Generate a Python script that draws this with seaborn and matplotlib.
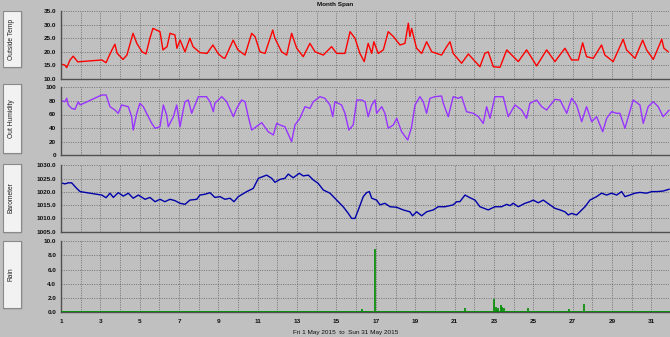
import matplotlib
matplotlib.use("Agg")
import matplotlib.pyplot as plt
from matplotlib.patches import Rectangle
from matplotlib.lines import Line2D
import numpy as np
import seaborn as sns

# ---------------- data (day of month, value) ----------------
temp_day = [1.00, 1.20, 1.29, 1.46, 1.62, 1.85, 3.07, 3.29, 3.54, 3.74, 3.85, 4.15, 4.35, 4.66, 4.86,
            5.12, 5.32, 5.52, 5.67, 6.03, 6.18, 6.39, 6.54, 6.79, 6.89, 7.05, 7.30, 7.55, 7.71, 8.06,
            8.42, 8.72, 8.98, 9.23, 9.33, 9.75, 9.99, 10.35, 10.69, 10.86, 11.11, 11.37, 11.76, 11.87,
            12.21, 12.47, 12.72, 12.98, 13.31, 13.65, 13.91, 14.33, 14.75, 15.01, 15.43, 15.69, 15.94,
            16.19, 16.41, 16.61, 16.79, 16.90, 17.12, 17.38, 17.63, 17.89, 18.23, 18.48, 18.65, 18.73,
            18.82, 18.94, 19.07, 19.33, 19.58, 19.84, 20.34, 20.60, 20.77, 20.93, 21.36, 21.70, 22.29,
            22.54, 22.71, 22.97, 23.31, 23.65, 24.24, 24.66, 24.83, 25.17, 25.68, 26.10, 26.61, 26.95,
            27.29, 27.51, 27.71, 28.05, 28.47, 28.64, 29.06, 29.57, 29.74, 30.17, 30.56, 30.76, 31.10,
            31.53, 31.64, 31.86]
temp_val = [15.5, 15.1, 14.2, 17.0, 18.4, 16.3, 17.0, 16.0, 20.0, 22.8, 19.5, 17.2, 18.8, 26.8, 23.0,
            20.0, 19.2, 25.0, 28.6, 27.4, 20.7, 21.9, 26.8, 26.2, 21.3, 24.3, 20.0, 25.0, 21.9, 19.7,
            19.4, 22.5, 19.4, 17.8, 17.6, 24.3, 20.7, 18.8, 26.8, 25.6, 20.0, 19.4, 28.0, 25.0,
            20.0, 18.8, 26.8, 21.3, 18.2, 23.1, 20.0, 18.8, 21.9, 19.4, 19.4, 27.4, 25.0,
            19.4, 16.4, 23.1, 19.4, 23.7, 19.4, 20.7, 27.4, 25.6, 22.5, 23.1, 30.5, 25.6,
            28.6, 25.0, 21.3, 19.4, 23.7, 20.0, 18.8, 21.9, 23.7, 19.4, 15.8, 19.2, 14.5,
            19.4, 20.0, 14.5, 14.3, 20.7, 16.4, 20.7, 18.8, 14.8, 20.7, 16.4, 21.3, 17.0,
            17.0, 23.3, 18.2, 17.6, 22.5, 18.8, 16.4, 24.6, 20.7, 17.6, 24.3, 20.7, 17.2,
            24.6, 21.3, 20.0]

hum_day = [1.00, 1.20, 1.29, 1.37, 1.54, 1.71, 1.88, 1.97, 3.07, 3.29, 3.49, 3.74, 3.91, 4.08, 4.42,
           4.59, 4.67, 4.85, 5.01, 5.18, 5.35, 5.61, 5.78, 6.03, 6.20, 6.37, 6.45, 6.71, 6.88, 7.05,
           7.21, 7.30, 7.47, 7.64, 7.81, 7.98, 8.40, 8.57, 8.74, 8.82, 9.17, 9.42, 9.76, 9.93, 10.18,
           10.35, 10.52, 10.69, 11.20, 11.53, 11.79, 11.96, 12.13, 12.38, 12.72, 12.89, 13.14, 13.40,
           13.65, 13.82, 14.16, 14.41, 14.67, 14.81, 14.92, 15.26, 15.43, 15.63, 15.85, 16.03, 16.28,
           16.45, 16.61, 16.79, 16.96, 17.04, 17.30, 17.46, 17.63, 17.89, 18.06, 18.31, 18.62, 18.82,
           18.99, 19.24, 19.41, 19.58, 19.75, 20.00, 20.34, 20.43, 20.68, 20.93, 21.19, 21.36, 21.61,
           21.95, 22.21, 22.46, 22.63, 22.80, 23.05, 23.47, 23.73, 24.07, 24.41, 24.66, 24.83, 25.17,
           25.43, 25.68, 26.10, 26.36, 26.70, 26.95, 27.20, 27.46, 27.71, 27.97, 28.22, 28.53, 28.73,
           28.98, 29.24, 29.40, 29.66, 29.83, 30.08, 30.42, 30.59, 30.84, 31.10, 31.35, 31.60, 31.91]
hum_val = [80.4, 78.8, 83.8, 74.0, 69.0, 67.6, 78.8, 74.0, 88.7, 88.7, 71.5, 66.6, 61.8, 74.0, 71.5,
           56.8, 37.2, 61.8, 76.5, 71.5, 61.8, 47.0, 39.7, 42.0, 74.0, 59.3, 42.0, 56.8, 74.0, 42.0,
           66.6, 78.8, 81.3, 61.8, 74.0, 86.2, 86.2, 78.8, 64.1, 76.5, 86.2, 78.8, 56.8, 69.0, 81.3,
           78.8, 56.8, 37.2, 48.0, 34.7, 29.9, 47.0, 44.6, 42.0, 20.0, 44.6, 54.4, 71.5,
           69.0, 78.8, 86.2, 83.8, 74.0, 56.8, 78.8, 74.0, 61.8, 37.2, 44.6, 81.3, 81.3,
           78.8, 56.8, 74.0, 81.3, 61.8, 71.5, 61.8, 39.7, 44.6, 54.4, 34.7, 22.5, 42.0,
           74.0, 86.2, 78.8, 61.8, 83.8, 86.2, 87.2, 76.5, 56.8, 86.2, 83.8, 86.2, 64.1,
           61.8, 56.8, 47.0, 71.5, 54.4, 86.2, 86.2, 56.8, 74.0, 66.6, 54.4, 76.5, 81.3,
           71.5, 66.6, 82.3, 81.3, 61.8, 83.8, 74.0, 49.4, 71.5, 49.4, 56.8, 34.7, 54.4,
           64.1, 61.8, 61.8, 39.7, 56.8, 81.3, 74.0, 47.0, 71.5, 78.8, 71.5, 56.8, 66.6]

baro_day = [1.00, 1.20, 1.37, 1.54, 1.80, 1.97, 3.07, 3.29, 3.49, 3.66, 3.91, 4.17, 4.42, 4.67, 4.93,
            5.27, 5.52, 5.78, 6.03, 6.28, 6.54, 6.79, 7.05, 7.30, 7.55, 7.90, 8.06, 8.32, 8.57, 8.82,
            9.08, 9.33, 9.59, 9.79, 10.01, 10.44, 10.77, 11.03, 11.45, 11.71, 11.87, 12.13, 12.38,
            12.55, 12.80, 13.11, 13.31, 13.57, 13.82, 14.07, 14.33, 14.67, 15.01, 15.34, 15.60, 15.77,
            15.94, 16.11, 16.36, 16.53, 16.67, 16.79, 17.04, 17.21, 17.46, 17.72, 18.06, 18.39, 18.73,
            18.87, 19.07, 19.33, 19.58, 19.92, 20.17, 20.51, 20.93, 21.11, 21.27, 21.53, 21.78, 22.04,
            22.29, 22.71, 23.05, 23.39, 23.65, 23.82, 23.98, 24.24, 24.58, 24.83, 25.00, 25.25, 25.51,
            25.85, 26.10, 26.36, 26.61, 26.78, 26.95, 27.20, 27.37, 27.63, 27.88, 28.22, 28.47, 28.73,
            28.98, 29.24, 29.49, 29.66, 29.91, 30.17, 30.42, 30.76, 31.02, 31.27, 31.60, 31.91]
baro_val = [1023.4, 1023.0, 1023.4, 1023.4, 1021.3, 1020.1, 1018.8, 1017.8, 1019.5, 1017.9, 1019.7,
            1018.4, 1019.5, 1017.6, 1018.8, 1017.2, 1017.9, 1016.3, 1017.2, 1016.3, 1017.2, 1016.7,
            1015.7, 1015.3, 1016.9, 1017.2, 1018.8, 1019.1, 1019.7, 1017.9, 1018.2, 1017.2, 1017.6,
            1016.3, 1018.2, 1020.1, 1021.3, 1025.1, 1026.3, 1025.1, 1023.6, 1024.7, 1025.1, 1026.7,
            1025.3, 1027.0, 1026.0, 1026.3, 1024.5, 1023.2, 1020.7, 1019.5, 1016.9, 1014.4, 1011.9,
            1010.0, 1010.0, 1013.2, 1018.2, 1019.7, 1020.1, 1017.6, 1016.9, 1015.1, 1015.7, 1014.4,
            1014.2, 1013.2, 1012.5, 1011.0, 1012.5, 1011.0, 1012.5, 1013.2, 1014.4, 1014.4, 1015.1,
            1016.3, 1016.3, 1018.8, 1017.8, 1016.9, 1014.4, 1013.2, 1014.4, 1014.4, 1015.3, 1014.8,
            1015.7, 1014.4, 1015.7, 1016.3, 1016.9, 1015.9, 1016.9, 1015.1, 1013.8, 1013.2, 1012.5,
            1011.3, 1011.9, 1011.3, 1012.5, 1014.4, 1016.9, 1018.2, 1019.5, 1018.8, 1019.5, 1018.8,
            1020.1, 1018.2, 1018.8, 1019.5, 1019.8, 1019.5, 1020.1, 1020.1, 1020.3, 1021.0]

rain_day = [16.28, 16.45, 16.97, 17.16, 21.24, 21.53, 22.57, 23.00, 23.10, 23.17, 23.22, 23.34,
            23.42, 23.51, 23.65, 24.75, 25.43, 26.83, 27.17, 27.56, 27.79]
rain_val = [0.4, 0.15, 8.9, 0.15, 0.1, 0.55, 0.15, 1.85, 0.8, 0.3, 0.55, 1.0,
            0.8, 0.55, 0.15, 0.55, 0.15, 0.4, 0.1, 1.15, 0.1]

panel_names = ["Outside Temp", "Out Humidity", "Barometer", "Rain"]
panel_colors = ["#ff0000", "#9933ff", "#0000aa", "#008c00"]
y_ticks = [[10, 15, 20, 25, 30, 35], [0, 20, 40, 60, 80, 100],
           [1005, 1010, 1015, 1020, 1025, 1030], [0, 2, 4, 6, 8, 10]]
y_fmt = ["{:.1f}", "{:d}", "{:.1f}", "{:.1f}"]
x_labels = list(range(1, 32, 2))
title = "Month Span"
range_text = "Fri 1 May 2015  to  Sun 31 May 2015"

# ---------------- style ----------------
BG = "#c0c0c0"
GRID = "#6a6a6a"
sns.set_style("white", {"axes.facecolor": BG, "figure.facecolor": BG})
plt.rcParams["font.family"] = ["Liberation Sans", "DejaVu Sans"]

W, H = 670, 337
fig = plt.figure(figsize=(W / 100, H / 100), dpi=100)
fig.patch.set_facecolor(BG)

# panel extents in pixels (top, bottom)
panel_px = [(11, 79), (87.3, 155.3), (165.3, 231.7), (241, 312.3)]
box_px = [(11, 67), (84, 153), (164, 231.7), (240.7, 308.3)]
x0_px, x1_px = 61, 671

axes = []
for i, (t, b) in enumerate(panel_px):
    ax = fig.add_axes([x0_px / W, (H - b) / H, (x1_px - x0_px) / W, (b - t) / H])
    ax.set_facecolor(BG)
    axes.append(ax)

series = [(temp_day, temp_val), (hum_day, hum_val), (baro_day, baro_val)]
for i, (xd, yd) in enumerate(series):
    sns.lineplot(x=xd, y=yd, ax=axes[i], color=panel_colors[i], linewidth=1.0,
                 sort=False, estimator=None)

# rain
axr = axes[3]
axr.vlines(rain_day, 0, rain_val, color=panel_colors[3], linewidth=1.2)
axr.axhline(0, color=panel_colors[3], linewidth=1.3, zorder=3)

for i, ax in enumerate(axes):
    ax.set_xlim(1, 32)
    ax.set_ylim(y_ticks[i][0], y_ticks[i][-1])
    ax.set_yticks(y_ticks[i])
    ax.set_yticklabels([y_fmt[i].format(v) for v in y_ticks[i]])
    ax.set_xticks(x_labels)
    ax.set_xticks(list(range(2, 32, 2)), minor=True)
    ax.grid(True, which="both", axis="x", color=GRID, linestyle=(0, (1.2, 1.6)), linewidth=0.6)
    ax.grid(True, which="major", axis="y", color=GRID, linestyle=(0, (1.2, 1.6)), linewidth=0.6)
    ax.set_axisbelow(True)
    for s in ["top", "right"]:
        ax.spines[s].set_visible(False)
    for s in ["left", "bottom"]:
        ax.spines[s].set_color("#505050")
        ax.spines[s].set_linewidth(1.0)
    ax.tick_params(axis="y", which="major", length=2.5, width=0.7, color="#303030", pad=1,
                   labelsize=4.6, labelcolor="#101010")
    for lbl in ax.get_yticklabels():
        lbl.set_fontweight("bold")
    ax.set_xlabel("")
    ax.set_ylabel("")
    if i < 3:
        ax.tick_params(axis="x", which="both", length=0, labelbottom=False)
    else:
        ax.set_xticklabels([str(d) for d in x_labels])
        ax.tick_params(axis="x", which="both", length=3, width=0.7, color="#303030", pad=2,
                       labelsize=4.6, labelcolor="#101010")
        for lbl in ax.get_xticklabels():
            lbl.set_fontweight("bold")

# left label buttons
for i, (t, b) in enumerate(box_px):
    bx0, bx1 = 3, 21
    rect = Rectangle((bx0 / W, (H - b) / H), (bx1 - bx0) / W, (b - t) / H,
                     transform=fig.transFigure, facecolor="#f2f2f2", edgecolor="#8a8a8a",
                     linewidth=0.8, zorder=2)
    fig.patches.append(rect)
    # shadow on right/bottom
    fig.lines.append(Line2D([bx1 / W, bx1 / W], [(H - b) / H, (H - t) / H],
                            transform=fig.transFigure, color="#5a5a5a", linewidth=0.9))
    fig.lines.append(Line2D([bx0 / W, bx1 / W], [(H - b) / H, (H - b) / H],
                            transform=fig.transFigure, color="#5a5a5a", linewidth=0.9))
    cy = (H - (t + b) / 2) / H
    txt = fig.text(11.3 / W, cy, panel_names[i], rotation=90, ha="center", va="center",
                   fontsize=4.8, color="#202020", zorder=3)
    fig.canvas.draw()
    bb = txt.get_window_extent().transformed(fig.transFigure.inverted())
    fig.lines.append(Line2D([15.2 / W, 15.2 / W], [bb.y0, bb.y1], transform=fig.transFigure,
                            color=panel_colors[i], linewidth=0.9))

fig.text(335 / W, 1 - 4.5 / H, title, ha="center", va="center", fontsize=4.6,
         fontweight="bold", color="#101010")
fig.text(346 / W, (H - 332.3) / H, range_text, ha="center", va="center", fontsize=4.6,
         color="#101010")

fig.savefig("out.png", dpi=100, facecolor=BG)
